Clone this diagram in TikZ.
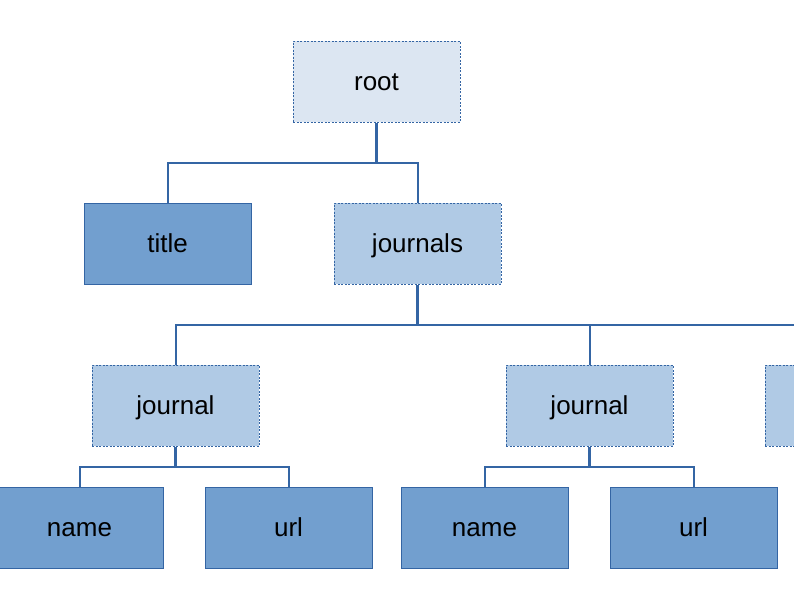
\documentclass[tikz,border=0pt]{standalone}
\usepackage{fontspec}
\setmainfont{Liberation Sans}
\definecolor{edge}{HTML}{3465A4}
\definecolor{leaffill}{HTML}{729FCF}
\definecolor{groupfill}{HTML}{B0CAE5}
\definecolor{rootfill}{HTML}{DCE6F2}
\begin{document}
\begin{tikzpicture}[x=1pt,y=-1pt,
  box/.style={minimum width=167pt, minimum height=81pt, inner sep=0pt,
    text height=20pt, text depth=3pt,
    font=\fontsize{26}{30}\selectfont, draw=edge, line width=1pt},
  leaf/.style={box, fill=leaffill},
  group/.style={box, fill=groupfill, dash pattern=on 2pt off 1.5pt},
  rootbox/.style={group, fill=rootfill},
  link/.style={draw=edge, line width=2pt},
  trunk/.style={draw=edge, line width=2.6pt}]
\useasboundingbox (0,0) rectangle (794,608);
\clip (0,0) rectangle (794,608);

% nodes of the tree
\node[rootbox] (root) at (376.5,81.5) {root};
\node[leaf] (title) at (167.5,243.5) {title};
\node[group] (journals) at (417.5,243.5) {journals};
\node[group] (journalA) at (175.5,405.5) {journal};
\node[group] (journalB) at (589.5,405.5) {journal};
\node[group] (journalC) at (848.5,405.5) {};
\node[leaf] (nameA) at (79.5,527.5) {name};
\node[leaf] (urlA) at (288.5,527.5) {url};
\node[leaf] (nameB) at (484.5,527.5) {name};
\node[leaf] (urlB) at (693.5,527.5) {url};

% connectors
\draw[link] (root.south) -- ++(0,40) -| (title.north);
\draw[link] (root.south) ++(0,40) -| (journals.north);
\draw[trunk] (root.south) -- ++(0,40);

\draw[link] (journals.south) ++(0,40) -| (journalA.north);
\draw[link] (journals.south) ++(0,40) -| (journalB.north);
\draw[link] (journals.south) ++(0,40) -| (journalC.north);
\draw[trunk] (journals.south) -- ++(0,40);

\draw[link] (journalA.south) -- ++(0,20) -| (nameA.north);
\draw[link] (journalA.south) ++(0,20) -| (urlA.north);
\draw[trunk] (journalA.south) -- ++(0,20);

\draw[link] (journalB.south) -- ++(0,20) -| (nameB.north);
\draw[link] (journalB.south) ++(0,20) -| (urlB.north);
\draw[trunk] (journalB.south) -- ++(0,20);
\end{tikzpicture}
\end{document}
